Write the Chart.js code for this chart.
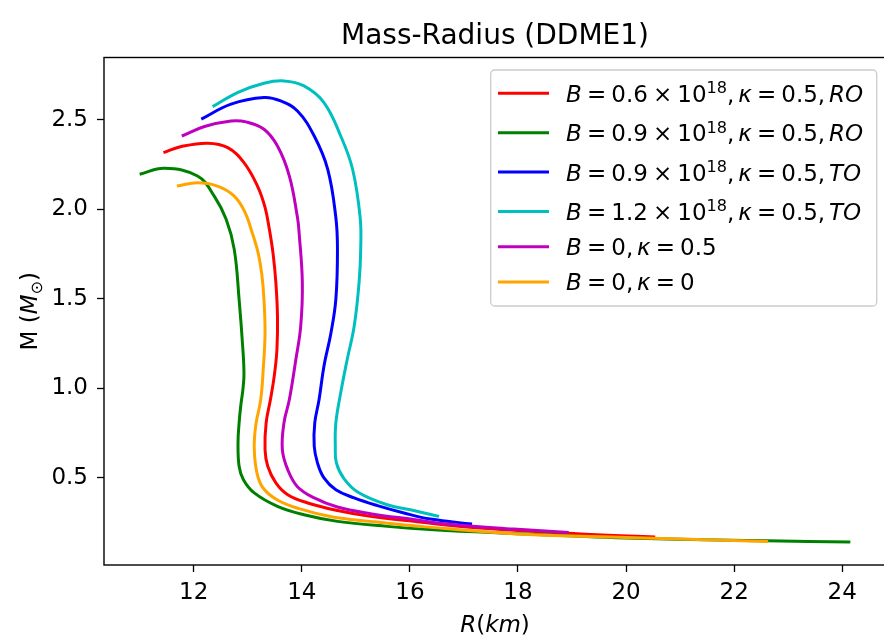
<!DOCTYPE html>
<html>
<head>
<meta charset="utf-8">
<title>Mass-Radius (DDME1)</title>
<script src="https://cdn.jsdelivr.net/npm/chart.js@4.4.1/dist/chart.umd.min.js"></script>
<style>
  html, body { margin: 0; padding: 0; background: #fff; overflow: hidden; }
  #wrap { width: 890px; height: 640px; }
</style>
</head>
<body>
<div id="wrap"><canvas id="mr" width="890" height="640"></canvas></div>
<script>
// 文字
const chartTitle = 'Mass-Radius (DDME1)';
const xLabel = '$R(km)$';
const yLabel = 'M ($M_{⊙}$)';

// 刻度
const xTicks = [12, 14, 16, 18, 20, 22, 24];
const yTicks = [0.5, 1.0, 1.5, 2.0, 2.5];

// 图例文字（$...$ 内按公式排版）
const seriesLabels = [
    '$B=0.6×10^{18},κ=0.5,RO$',
    '$B=0.9×10^{18},κ=0.5,RO$',
    '$B=0.9×10^{18},κ=0.5,TO$',
    '$B=1.2×10^{18},κ=0.5,TO$',
    '$B=0,κ=0.5$',
    '$B=0,κ=0$'
];
const seriesColors = ['#ff0000', '#008000', '#0000ff', '#00bfbf', '#bf00bf', '#ffa500'];

// 半径 R (km)
const radiusB06RO = [11.44, 11.77, 12.26, 12.63, 12.93, 13.18, 13.32, 13.40, 13.47, 13.52, 13.55, 13.54, 13.49, 13.42, 13.34, 13.32, 13.37, 13.52, 13.74, 14.11, 14.66, 15.27, 16.07, 17.30, 19.16, 20.54];
const radiusB09RO = [11.00, 11.46, 12.07, 12.38, 12.60, 12.75, 12.84, 12.91, 12.93, 12.91, 12.87, 12.84, 12.82, 12.84, 12.92, 13.12, 13.55, 14.04, 14.66, 15.58, 16.44, 17.68, 20.00, 22.60, 24.15];
const radiusB09TO = [12.14, 12.69, 13.30, 13.61, 13.92, 14.23, 14.48, 14.63, 14.66, 14.63, 14.54, 14.41, 14.32, 14.24, 14.23, 14.29, 14.41, 14.63, 14.97, 15.40, 15.89, 16.38, 17.15];
const radiusB12TO = [12.35, 12.81, 13.30, 13.67, 14.04, 14.41, 14.72, 14.94, 15.08, 15.09, 15.06, 14.97, 14.84, 14.72, 14.63, 14.62, 14.64, 14.78, 15.04, 15.58, 16.07, 16.54];
const radiusB0K05 = [11.78, 12.20, 12.69, 12.97, 13.30, 13.55, 13.77, 13.92, 13.95, 14.01, 13.98, 13.89, 13.77, 13.67, 13.64, 13.74, 13.92, 14.23, 14.66, 15.27, 16.07, 16.69, 17.92, 18.94];
const radiusB0K0 = [11.69, 12.07, 12.44, 12.75, 12.95, 13.08, 13.19, 13.26, 13.30, 13.32, 13.29, 13.24, 13.15, 13.12, 13.17, 13.28, 13.54, 13.95, 14.55, 15.27, 16.20, 18.00, 20.00, 22.63];

// 质量 M (M⊙)
const massB06RO = [2.317, 2.351, 2.370, 2.345, 2.261, 2.130, 2.011, 1.888, 1.748, 1.590, 1.403, 1.216, 1.067, 0.936, 0.806, 0.656, 0.563, 0.470, 0.404, 0.358, 0.316, 0.283, 0.255, 0.218, 0.185, 0.168];
const massB09RO = [2.196, 2.230, 2.186, 2.074, 1.944, 1.776, 1.496, 1.216, 1.076, 0.992, 0.900, 0.806, 0.695, 0.563, 0.488, 0.414, 0.339, 0.292, 0.255, 0.227, 0.208, 0.190, 0.162, 0.147, 0.139];
const massB09TO = [2.504, 2.588, 2.625, 2.606, 2.550, 2.410, 2.224, 1.954, 1.776, 1.496, 1.310, 1.123, 0.936, 0.806, 0.675, 0.582, 0.498, 0.432, 0.386, 0.343, 0.302, 0.268, 0.240];
const massB12TO = [2.574, 2.653, 2.705, 2.718, 2.690, 2.597, 2.410, 2.224, 1.954, 1.776, 1.590, 1.347, 1.160, 0.974, 0.806, 0.675, 0.582, 0.494, 0.418, 0.348, 0.316, 0.283];
const massB0K05 = [2.410, 2.463, 2.494, 2.489, 2.448, 2.354, 2.186, 1.954, 1.870, 1.590, 1.347, 1.160, 0.936, 0.806, 0.656, 0.544, 0.449, 0.386, 0.335, 0.298, 0.265, 0.240, 0.212, 0.193];
const massB0K0 = [2.130, 2.149, 2.130, 2.074, 1.983, 1.871, 1.759, 1.636, 1.496, 1.310, 1.123, 0.936, 0.796, 0.667, 0.526, 0.443, 0.376, 0.326, 0.281, 0.255, 0.227, 0.185, 0.165, 0.143];

const seriesRadius = [radiusB06RO, radiusB09RO, radiusB09TO, radiusB12TO, radiusB0K05, radiusB0K0];
const seriesMass = [massB06RO, massB09RO, massB09TO, massB12TO, massB0K05, massB0K0];

const FONT = '"DejaVu Sans", sans-serif';

// 把带 $...$ 的字符串拆成小段：斜体、上下标、运算符两侧的空隙
function parseMath(str) {
    const runs = [];
    str.split('$').forEach((part, i) => {
        if (i % 2 === 0) {
            if (part) runs.push({ t: part, it: false, lvl: 0 });
            return;
        }
        let k = 0;
        while (k < part.length) {
            const c = part[k];
            if ((c === '^' || c === '_') && part[k + 1] === '{') {
                const end = part.indexOf('}', k);
                const inner = part.slice(k + 2, end);
                runs.push({ t: inner, it: /[A-Za-z]/.test(inner), lvl: c === '^' ? 1 : -1 });
                k = end + 1;
                continue;
            }
            if (c === '=' || c === '×') {
                runs.push({ gap: 0.2222 }, { t: c, it: false, lvl: 0 }, { gap: 0.2222 });
            } else if (c === ',') {
                runs.push({ t: c, it: false, lvl: 0 }, { gap: 0.1667 });
            } else {
                runs.push({ t: c, it: /[A-Za-zα-ω]/.test(c), lvl: 0 });
            }
            k++;
        }
    });
    return runs;
}

function runFont(r, size) {
    const s = r.lvl ? size * 0.7 : size;
    return (r.it ? 'italic ' : '') + s + 'px ' + FONT;
}

function mathWidth(ctx, runs, size) {
    let w = 0;
    runs.forEach(r => {
        if (r.gap) { w += r.gap * size; return; }
        ctx.font = runFont(r, size);
        w += ctx.measureText(r.t).width;
    });
    return w;
}

// y 为基线
function drawMath(ctx, str, x, y, size, align) {
    const runs = parseMath(str);
    let cx = x;
    if (align === 'center') cx = x - mathWidth(ctx, runs, size) / 2;
    ctx.textAlign = 'left';
    ctx.textBaseline = 'alphabetic';
    ctx.fillStyle = '#000';
    runs.forEach(r => {
        if (r.gap) { cx += r.gap * size; return; }
        ctx.font = runFont(r, size);
        const dy = r.lvl === 1 ? -0.37 * size : r.lvl === -1 ? 0.2 * size : 0;
        ctx.fillText(r.t, cx, y + dy);
        cx += ctx.measureText(r.t).width;
    });
}

// 边框、标题、坐标轴标题、图例
const mplDecor = {
    id: 'mplDecor',
    afterDraw(chart) {
        const ctx = chart.ctx;
        const a = chart.chartArea;
        ctx.save();

        ctx.strokeStyle = '#000';
        ctx.lineWidth = 1.4;
        ctx.strokeRect(a.left, a.top, a.right - a.left, a.bottom - a.top);

        const midX = (a.left + a.right) / 2;
        ctx.font = '28px ' + FONT;
        ctx.fillStyle = '#000';
        ctx.textAlign = 'center';
        ctx.textBaseline = 'alphabetic';
        ctx.fillText(chartTitle, midX, 44);

        drawMath(ctx, xLabel, midX, 632, 23, 'center');

        ctx.save();
        ctx.translate(37, (a.top + a.bottom) / 2);
        ctx.rotate(-Math.PI / 2);
        drawMath(ctx, yLabel, 0, 0, 23, 'center');
        ctx.restore();

        // 图例
        const boxW = 386, boxH = 236;
        const bx = a.right - 9.3 - boxW;
        const by = a.top + 12.5;
        ctx.beginPath();
        ctx.roundRect(bx, by, boxW, boxH, 4);
        ctx.fillStyle = 'rgba(255,255,255,0.8)';
        ctx.fill();
        ctx.strokeStyle = '#cccccc';
        ctx.lineWidth = 1.3;
        ctx.stroke();

        let cy = by + 23.3;
        seriesLabels.forEach((label, i) => {
            if (i > 0) cy += label.includes('^') ? 39.4 : 35.2;
            ctx.beginPath();
            ctx.moveTo(bx + 7.3, cy);
            ctx.lineTo(bx + 58.3, cy);
            ctx.strokeStyle = seriesColors[i];
            ctx.lineWidth = 3;
            ctx.stroke();
            drawMath(ctx, label, bx + 75.3, cy + 8.5, 23, 'left');
        });

        ctx.restore();
    }
};

const datasets = seriesLabels.map((label, i) => ({
    label: label.replace(/\$/g, ''),
    data: seriesRadius[i].map((r, j) => ({ x: r, y: seriesMass[i][j] })),
    borderColor: seriesColors[i],
    backgroundColor: seriesColors[i],
    borderWidth: 3,
    pointRadius: 0,
    showLine: true,
    tension: 0.4,
    fill: false,
    order: seriesLabels.length - i
}));

const tickFont = { family: FONT, size: 23 };

new Chart(document.getElementById('mr').getContext('2d'), {
    type: 'scatter',
    data: { datasets },
    options: {
        responsive: false,
        animation: false,
        layout: { padding: { left: 0, top: 57.5, right: 4, bottom: 0 } },
        plugins: {
            legend: { display: false },
            title: { display: false },
            tooltip: { enabled: false }
        },
        scales: {
            x: {
                type: 'linear',
                min: 10.34,
                max: 24.81,
                afterBuildTicks: s => { s.ticks = xTicks.map(v => ({ value: v })); },
                afterFit: s => { s.height = 75; },
                border: { display: false },
                grid: { display: true, drawOnChartArea: false, drawTicks: true, tickLength: 7, tickWidth: 1.3, tickColor: '#000' },
                ticks: { color: '#000', font: tickFont, padding: 7, maxRotation: 0, autoSkip: false, callback: v => String(v) }
            },
            y: {
                type: 'linear',
                min: 0.011,
                max: 2.849,
                afterBuildTicks: s => { s.ticks = yTicks.map(v => ({ value: v })); },
                afterFit: s => { s.width = 104; },
                border: { display: false },
                grid: { display: true, drawOnChartArea: false, drawTicks: true, tickLength: 7, tickWidth: 1.3, tickColor: '#000' },
                ticks: { color: '#000', font: tickFont, padding: 9, autoSkip: false, callback: v => v.toFixed(1) }
            }
        }
    },
    plugins: [mplDecor]
});
</script>
</body>
</html>
